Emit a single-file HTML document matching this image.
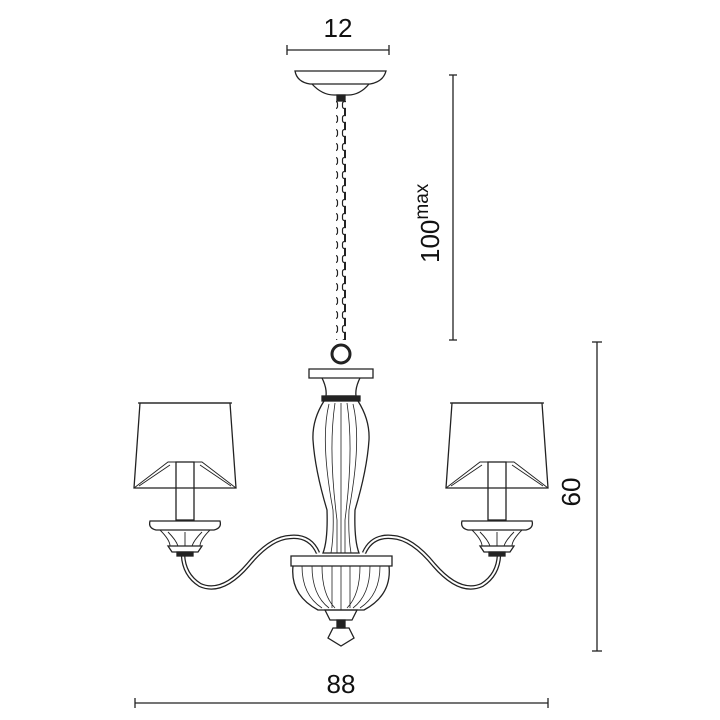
<!DOCTYPE html>
<html><head><meta charset="utf-8"><style>
html,body{margin:0;padding:0;background:#fff}
svg{display:block}
text{font-family:"Liberation Sans",sans-serif;fill:#111}
</style></head><body>
<svg width="720" height="720" viewBox="0 0 720 720" xmlns="http://www.w3.org/2000/svg">
<defs>
<pattern id="ch" x="0" y="101" width="10" height="14" patternUnits="userSpaceOnUse">
<rect x="2.5" y="0.5" width="5" height="7" rx="2" fill="none" stroke="#222" stroke-width="1.2"/>
<line x1="5" y1="7" x2="5" y2="14" stroke="#222" stroke-width="2"/>
</pattern>
</defs>
<g stroke="#222" fill="none" stroke-width="1.3">
<!-- dimensions -->
<line x1="287" y1="50" x2="389" y2="50"/><line x1="287" y1="45" x2="287" y2="55"/><line x1="389" y1="45" x2="389" y2="55"/>
<line x1="453" y1="75" x2="453" y2="340"/><line x1="449" y1="75" x2="457" y2="75"/><line x1="449" y1="340" x2="457" y2="340"/>
<line x1="597" y1="342" x2="597" y2="651"/><line x1="592" y1="342" x2="602" y2="342"/><line x1="592" y1="651" x2="602" y2="651"/>
<line x1="135" y1="703" x2="548" y2="703"/><line x1="135" y1="698" x2="135" y2="708"/><line x1="548" y1="698" x2="548" y2="708"/>
<!-- canopy -->
<path d="M295 71 H386 Q383 82 370 84 H310 Q297 82 295 71 Z"/>
<path d="M312 84 Q322 95 334 95 H348 Q360 95 369 84"/>
<rect x="337" y="95" width="8" height="6" fill="#222"/>
<!-- chain -->
<rect x="336" y="101" width="10" height="239" fill="url(#ch)" stroke="none"/>
<circle cx="341" cy="354" r="9" stroke-width="3"/>
<!-- top plate -->
<path d="M309 369 H373 V378 H309 Z"/>
<path d="M322 378 Q327 388 326 396 H356 Q355 388 360 378"/>
<rect x="322" y="396" width="38" height="5" fill="#222"/>
<!-- vase -->
<path d="M324 401 Q312 420 313 440 Q315 470 327 510 Q328 540 323 553 H359 Q354 540 355 510 Q367 470 369 440 Q370 420 358 401"/>
<path d="M329 404 Q320 440 333 510 Q334 535 331 553 M335 403 Q328 450 337 520 V553 M341 403 V553 M347 403 Q354 450 345 520 V553 M353 404 Q362 440 349 510 Q348 535 351 553" stroke-width="0.8"/>
<!-- bowl -->
<path d="M291 556 H392 V566 H291 Z"/>
<path d="M293 566 Q290 595 318 610 H364 Q392 595 389 566"/>
<path d="M302 566 Q302 595 322 608 M312 566 Q312 595 329 608 M322 566 Q322 595 335 608 M332 566 V608 M341 566 V610 M350 566 V608 M360 566 Q360 595 347 608 M370 566 Q370 595 353 608 M380 566 Q380 595 360 608" stroke-width="0.8"/>
<path d="M325 610 H357 L352 620 H330 Z"/>
<rect x="337" y="620" width="8" height="8" fill="#222"/>
<path d="M333 628 H349 L354 638 L341 646 L328 638 Z"/>
<!-- arms -->
<path d="M318 553 Q310 535 290 537 Q270 538 248 565 Q222 595 200 585 Q184 575 183 555" stroke-width="4.5"/>
<path d="M318 553 Q310 535 290 537 Q270 538 248 565 Q222 595 200 585 Q184 575 183 555" stroke="#fff" stroke-width="2"/>
<path d="M364 553 Q372 535 392 537 Q412 538 434 565 Q460 595 482 585 Q498 575 499 555" stroke-width="4.5"/>
<path d="M364 553 Q372 535 392 537 Q412 538 434 565 Q460 595 482 585 Q498 575 499 555" stroke="#fff" stroke-width="2"/>
<!-- left lamp -->
<path d="M140 403 H230 L236 488 H134 Z"/>
<path d="M138 403 H232"/>
<path d="M134 488 L168 462 H202 L236 488 M139 486 L170 465 M231 486 L200 465" stroke-width="0.9"/>
<rect x="176" y="462" width="18" height="58"/>
<path d="M150 521 H220 Q222 528 214 530 H156 Q148 528 150 521 Z"/>
<path d="M160 530 Q170 540 170 546 H200 Q200 540 210 530 M168 532 Q176 540 178 546 M185 532 V546 M202 532 Q194 540 192 546" stroke-width="0.9"/>
<path d="M168 546 H202 L198 552 H172 Z"/>
<rect x="177" y="552" width="16" height="4" fill="#222"/>
<!-- right lamp -->
<path d="M452 403 H542 L548 488 H446 Z"/>
<path d="M450 403 H544"/>
<path d="M446 488 L480 462 H514 L548 488 M451 486 L482 465 M543 486 L512 465" stroke-width="0.9"/>
<rect x="488" y="462" width="18" height="58"/>
<path d="M462 521 H532 Q534 528 526 530 H468 Q460 528 462 521 Z"/>
<path d="M472 530 Q482 540 482 546 H512 Q512 540 522 530 M480 532 Q488 540 490 546 M497 532 V546 M514 532 Q506 540 504 546" stroke-width="0.9"/>
<path d="M480 546 H514 L510 552 H484 Z"/>
<rect x="489" y="552" width="16" height="4" fill="#222"/>
</g>
<text x="338" y="37" font-size="26" text-anchor="middle">12</text>
<text x="341" y="693" font-size="26" text-anchor="middle">88</text>
<text transform="translate(580,492) rotate(-90)" font-size="26" text-anchor="middle">60</text>
<text transform="translate(439,263) rotate(-90)" font-size="26">100<tspan font-size="19" dy="-11">max</tspan></text>
</svg>
</body></html>
